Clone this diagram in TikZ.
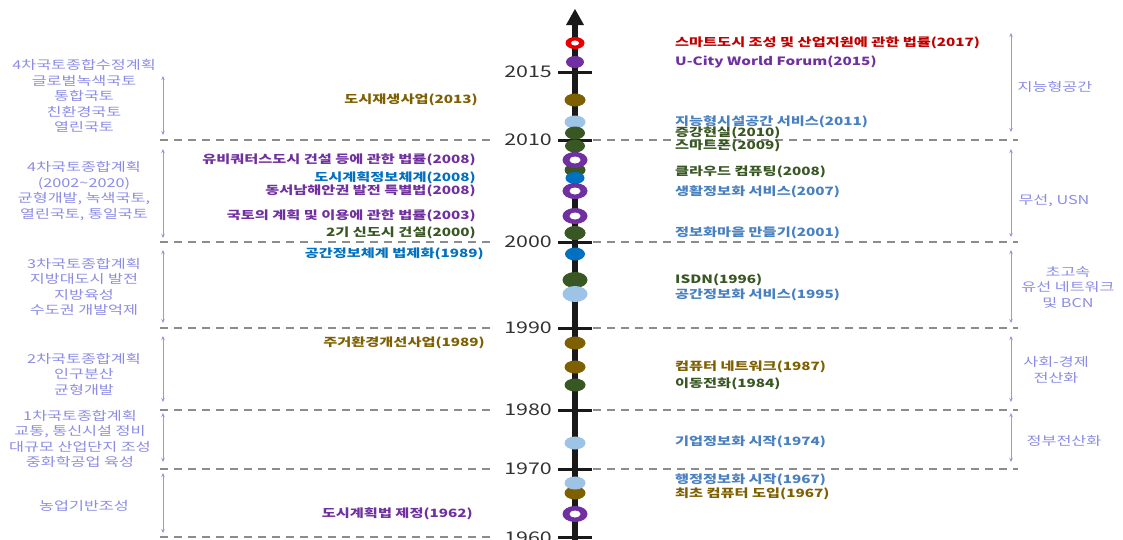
\documentclass[tikz,border=0pt]{standalone}
\usepackage{fontspec}
\setmainfont{Noto Sans CJK KR}[FakeStretch=1.33]
\usetikzlibrary{shapes.geometric,arrows.meta,backgrounds}
\definecolor{cPur}{RGB}{112,48,160}
\definecolor{cBrn}{RGB}{127,96,0}
\definecolor{cGrn}{RGB}{56,87,35}
\definecolor{cBlu}{RGB}{0,112,192}
\definecolor{cLb}{RGB}{157,195,230}
\definecolor{cLbT}{RGB}{72,128,192}
\definecolor{cRedT}{RGB}{192,0,0}
\definecolor{cRed}{RGB}{230,0,0}
\definecolor{cLav}{RGB}{140,140,230}
\definecolor{cLavL}{RGB}{150,150,235}
\definecolor{cGrid}{RGB}{140,140,140}
\definecolor{cYear}{RGB}{51,51,51}
\definecolor{cGrnL}{RGB}{125,135,115}
\definecolor{cBrnL}{RGB}{165,140,70}
\tikzset{
  dot/.style={ellipse, fill=#1, draw=none, inner sep=0pt, minimum width=21pt, minimum height=13pt},
  bigdot/.style={dot=#1, minimum width=25pt, minimum height=16pt},
  ringout/.style={ellipse, fill=cPur, draw=none, inner sep=0pt, minimum width=25pt, minimum height=16pt},
  ringin/.style={ellipse, fill=white, draw=none, inner sep=0pt, minimum width=11pt, minimum height=7pt},
  lab/.style={font=\fontsize{11.45}{13}\selectfont\bfseries, inner sep=0pt, text=#1},
  llab/.style={lab=#1, anchor=east},
  rlab/.style={lab=#1, anchor=west},
  yearlab/.style={font=\fontsize{16.1}{18}\selectfont, text=cYear, anchor=east, inner sep=0pt},
  era/.style={font=\fontsize{12.2}{15.5}\selectfont, text=cLav, align=center, inner sep=0pt},
  spanarrow/.style={draw=cLavL, line width=1pt, {Stealth[length=4pt,width=3.5pt]}-{Stealth[length=4pt,width=3.5pt]}},
  gridline/.style={draw=cGrid, line width=1.8pt, dash pattern=on 8pt off 6pt},
  tickmark/.style={draw=black!90, line width=3pt},
  conn/.style={draw=#1, line width=0.8pt},
  rconn/.style={draw=#1, line width=0.8pt, shorten >=8pt},
}
\begin{document}
\begin{tikzpicture}[x=1pt,y=-1pt]
\useasboundingbox (0,0) rectangle (1123,539);
\fill[white] (0,0) rectangle (1123,539);

% grid lines
\foreach \yy in {140,242,328,410,469} {
  \draw[gridline] (160,\yy) -- (495,\yy);
  \draw[gridline] (593,\yy) -- (1018,\yy);
}
\draw[gridline] (160,537) -- (495,537);

% axis
\draw[line width=5.5pt, draw=black!90] (575,545) -- (575,22);
\fill[black!90] (566,25) -- (584,25) -- (575,9) -- cycle;
\foreach \yy in {72,140,242,328,410,469,537}
  \draw[tickmark] (558,\yy) -- (592,\yy);

% years
\node[yearlab] (y2015) at (552,72) {2015};
\node[yearlab] (y2010) at (552,140) {2010};
\node[yearlab] (y2000) at (552,242) {2000};
\node[yearlab] (y1990) at (552,328) {1990};
\node[yearlab] (y1980) at (552,410) {1980};
\node[yearlab] (y1970) at (552,469) {1970};
\node[yearlab] (y1960) at (552,538) {1960};

% left eras
\node[era] (e1) at (84,96) {4차국토종합수정계획\\글로벌녹색국토\\통합국토\\친환경국토\\열린국토};
\node[era] (e2) at (84,191) {4차국토종합계획\\(2002\textasciitilde 2020)\\균형개발, 녹색국토,\\열린국토, 통일국토};
\node[era] (e3) at (84,287) {3차국토종합계획\\지방대도시 발전\\지방육성\\수도권 개발억제};
\node[era] (e4) at (84,374) {2차국토종합계획\\인구분산\\균형개발};
\node[era] (e5) at (80,439) {1차국토종합계획\\교통, 통신시설 정비\\대규모 산업단지 조성\\중화학공업 육성};
\node[era] (e6) at (84,506) {농업기반조성};
\draw[spanarrow] (163,76) -- (163,135);
\draw[spanarrow] (163,149) -- (163,238);
\draw[spanarrow] (163,250) -- (163,323);
\draw[spanarrow] (163,336) -- (163,402);
\draw[spanarrow] (163,413) -- (163,462);
\draw[spanarrow] (163,473) -- (163,533);

% right eras
\node[era] (r1) at (1055,87) {지능형공간};
\node[era] (r2) at (1054,201) {무선, USN};
\node[era] (r3) at (1068,287) {초고속\\유선 네트워크\\및 BCN};
\node[era] (r4) at (1056,370) {사회-경제\\전산화};
\node[era] (r5) at (1064,441) {정부전산화};
\draw[spanarrow] (1011,33) -- (1011,132);
\draw[spanarrow] (1011,149) -- (1011,237);
\draw[spanarrow] (1011,250) -- (1011,323);
\draw[spanarrow] (1011,336) -- (1011,402);
\draw[spanarrow] (1011,413) -- (1011,462);

% markers
\node[ellipse, fill=cRed, inner sep=0pt, minimum width=19pt, minimum height=12pt] (m2017) at (575,43) {};
\node[ellipse, fill=white, inner sep=0pt, minimum width=8pt, minimum height=5pt] at (575,43) {};
\node[dot=cPur, minimum width=18pt, minimum height=12pt] (m2015) at (575,62) {};
\node[dot=cBrn] (m2013) at (575,100) {};
\node[dot=cLb] (m2011) at (575,122) {};
\node[dot=cGrn, minimum width=20pt] (m2010) at (575,133) {};
\node[dot=cGrn, minimum width=20pt] (m2009) at (575,146) {};
\node[dot=cGrn] (m2008c) at (575,170) {};
\node[ringout] (m2008u) at (575,160) {};
\node[ringin] at (575,160) {};
\node[dot=cBlu, minimum width=19pt, minimum height=12pt] (m2008p) at (575,178) {};
\node[dot=cLb] (m2007) at (575,192) {};
\node[ringout] (m2008s) at (575,191) {};
\node[ringin] at (575,191) {};
\node[ringout] (m2003) at (575,216) {};
\node[ringin] at (575,216) {};
\node[dot=cLb] (m2001) at (575,233) {};
\node[dot=cGrn, minimum height=14pt] (m2000) at (575,233) {};
\node[dot=cBlu, minimum width=20pt] (m1989g) at (575,254) {};
\node[bigdot=cGrn] (m1996) at (575,280) {};
\node[bigdot=cLb] (m1995) at (575,294) {};
\node[dot=cBrn] (m1989h) at (575,343) {};
\node[dot=cBrn] (m1987) at (575,367) {};
\node[dot=cGrn] (m1984) at (575,385) {};
\node[dot=cLb] (m1974) at (575,443) {};
\node[dot=cBrn] (m1967c) at (575,493) {};
\node[dot=cLb] (m1967a) at (575,483) {};
\node[ringout] (m1962) at (575,514) {};
\node[ringin] at (575,514) {};

% left labels
\node[llab=cBrn] (l2013) at (478,100) {도시재생사업(2013)};
\node[llab=cPur] (l2008u) at (476,160) {유비쿼터스도시 건설 등에 관한 법률(2008)};
\node[llab=cBlu] (l2008p) at (476,178) {도시계획정보체계(2008)};
\node[llab=cPur] (l2008s) at (476,191) {동서남해안권 발전 특별법(2008)};
\node[llab=cPur] (l2003) at (476,216) {국토의 계획 및 이용에 관한 법률(2003)};
\node[llab=cGrn] (l2000) at (476,233) {2기 신도시 건설(2000)};
\node[llab=cBlu] (l1989g) at (484,254) {공간정보체계 법제화(1989)};
\node[llab=cBrn] (l1989h) at (485,343) {주거환경개선사업(1989)};
\node[llab=cPur] (l1962) at (473,514) {도시계획법 제정(1962)};

% right labels
\node[rlab=cRedT] (r2017) at (675,43) {스마트도시 조성 및 산업지원에 관한 법률(2017)};
\node[rlab=cPur] (r2015) at (675,62) {U-City World Forum(2015)};
\node[rlab=cLbT] (r2011) at (675,122) {지능형시설공간 서비스(2011)};
\node[rlab=cGrn] (r2010) at (675,133) {증강현실(2010)};
\node[rlab=cGrn] (r2009) at (675,146) {스마트폰(2009)};
\node[rlab=cGrn] (r2008c) at (675,172) {클라우드 컴퓨팅(2008)};
\node[rlab=cLbT] (r2007) at (675,192) {생활정보화 서비스(2007)};
\node[rlab=cLbT] (r2001) at (675,233) {정보화마을 만들기(2001)};
\node[rlab=cGrn] (r1996) at (675,280) {ISDN(1996)};
\node[rlab=cLbT] (r1995) at (675,295) {공간정보화 서비스(1995)};
\node[rlab=cBrn] (r1987) at (675,367) {컴퓨터 네트워크(1987)};
\node[rlab=cGrn] (r1984) at (675,384) {이동전화(1984)};
\node[rlab=cLbT] (r1974) at (675,442) {기업정보화 시작(1974)};
\node[rlab=cLbT] (r1967a) at (675,480) {행정정보화 시작(1967)};
\node[rlab=cBrn] (r1967c) at (675,494) {최초 컴퓨터 도입(1967)};

% connectors
\begin{scope}[on background layer]
\draw[conn=cBrnL, shorten <=10pt] (l2013.east) -- (m2013);
\draw[conn=cPur] (l2008u.east) -- (m2008u);
\draw[conn=cBlu] (l2008p.east) -- (m2008p);
\draw[conn=cPur] (l2008s.east) -- (m2008s);
\draw[conn=cPur] (l2003.east) -- (m2003);
\draw[conn=cGrnL] (l2000.east) -- (m2000);
\draw[conn=cBlu] (l1989g.east) -- (m1989g);
\draw[conn=cBrnL] (l1989h.east) -- (m1989h);
\draw[conn=cPur] (l1962.east) -- (m1962);

\draw[rconn=cRed] (m2017) -- (m2017 -| r2017.west);
\draw[rconn=cPur] (m2015) -- (m2015 -| r2015.west);
\draw[rconn=cLb] (m2011) -- (m2011 -| r2011.west);
\draw[rconn=cGrnL] (m2010) -- (m2010 -| r2010.west);
\draw[rconn=cGrnL] (m2009) -- (m2009 -| r2009.west);
\draw[rconn=cGrnL] (m2008c) -- (m2008c -| r2008c.west);
\draw[rconn=cLb] (m2007) -- (m2007 -| r2007.west);
\draw[rconn=cLb] (m2001) -- (m2001 -| r2001.west);
\draw[rconn=cGrnL] (m1996) -- (m1996 -| r1996.west);
\draw[rconn=cLb] (m1995) -- (m1995 -| r1995.west);
\draw[rconn=cBrnL] (m1987) -- (m1987 -| r1987.west);
\draw[rconn=cGrnL] (m1984) -- (m1984 -| r1984.west);
\draw[rconn=cLb] (m1974) -- (m1974 -| r1974.west);
\draw[rconn=cLb] (m1967a) -- (m1967a -| r1967a.west);
\draw[rconn=cBrnL] (m1967c) -- (m1967c -| r1967c.west);
\end{scope}
\end{tikzpicture}
\end{document}
